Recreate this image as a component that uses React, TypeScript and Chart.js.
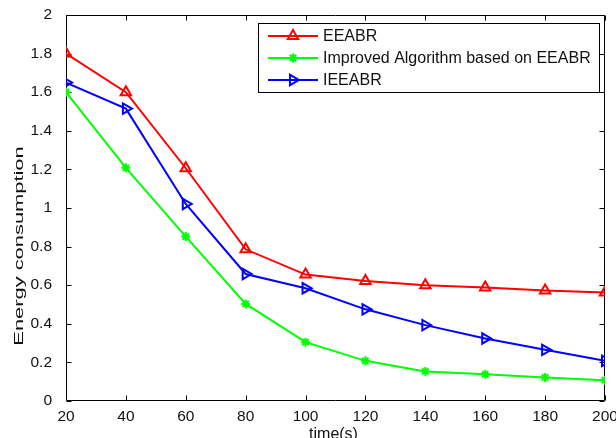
import React, { useEffect, useRef } from "react";
import { Chart, registerables } from "chart.js";

Chart.register(...registerables);

// ---- data ----
const times = [20, 40, 60, 80, 100, 120, 140, 160, 180, 200];
const eeabr = [1.8, 1.6, 1.206, 0.786, 0.655, 0.622, 0.6, 0.588, 0.573, 0.562];
const improved = [1.6, 1.208, 0.852, 0.503, 0.305, 0.208, 0.153, 0.138, 0.122, 0.108];
const ieeabr = [1.65, 1.515, 1.021, 0.658, 0.584, 0.475, 0.393, 0.324, 0.265, 0.208];

const seriesNames = ["EEABR", "Improved Algorithm based on EEABR", "IEEABR"];
const seriesColors = ["#ff0000", "#00ff00", "#0000ff"];
const seriesMarkers = ["triangle", "star", "rtriangle"];

const xTicks = [20, 40, 60, 80, 100, 120, 140, 160, 180, 200];
const yTicks = [0, 0.2, 0.4, 0.6, 0.8, 1, 1.2, 1.4, 1.6, 1.8, 2];
const yTickLabels = ["0", "0.2", "0.4", "0.6", "0.8", "1", "1.2", "1.4", "1.6", "1.8", "2"];

const xTitle = "time(s)";
const yTitle = "Energy consumption";

const FONT = "'Liberation Sans', Arial, Helvetica, sans-serif";
const TEXT = "#111111";

function drawMarker(ctx: CanvasRenderingContext2D, kind: string, x: number, y: number, r: number, color: string) {
  ctx.save();
  ctx.strokeStyle = color;
  ctx.fillStyle = color;
  ctx.lineWidth = 2;
  ctx.beginPath();
  if (kind === "triangle" || kind === "rtriangle") {
    let rad = kind === "triangle" ? 0 : Math.PI / 2;
    const TT = (2 * Math.PI) / 3;
    ctx.moveTo(x + Math.sin(rad) * r, y - Math.cos(rad) * r);
    rad += TT;
    ctx.lineTo(x + Math.sin(rad) * r, y - Math.cos(rad) * r);
    rad += TT;
    ctx.lineTo(x + Math.sin(rad) * r, y - Math.cos(rad) * r);
    ctx.closePath();
  } else {
    const d = r * Math.SQRT1_2;
    ctx.moveTo(x - r, y); ctx.lineTo(x + r, y);
    ctx.moveTo(x, y - r); ctx.lineTo(x, y + r);
    ctx.moveTo(x - d, y - d); ctx.lineTo(x + d, y + d);
    ctx.moveTo(x - d, y + d); ctx.lineTo(x + d, y - d);
  }
  ctx.stroke();
  ctx.restore();
}

const framePlugin = {
  id: "matlabFrame",
  beforeDatasetsDraw(chart: any) {
    const { ctx, chartArea: a, scales } = chart;
    const xs = scales.x;
    const ys = scales.y;
    ctx.save();
    ctx.strokeStyle = "#000";
    ctx.lineWidth = 1;
    const L = Math.round(a.left) + 0.5;
    const R = Math.round(a.right) - 0.5;
    const T = Math.round(a.top) + 0.5;
    const B = Math.round(a.bottom) - 0.5;
    ctx.beginPath();
    ctx.rect(L, T, R - L, B - T);
    const tl = 5;
    for (const v of xTicks) {
      const px = Math.round(xs.getPixelForValue(v)) + 0.5;
      ctx.moveTo(px, B); ctx.lineTo(px, B - tl);
      ctx.moveTo(px, T); ctx.lineTo(px, T + tl);
    }
    for (const v of yTicks) {
      const py = Math.round(ys.getPixelForValue(v)) + 0.5;
      ctx.moveTo(L, py); ctx.lineTo(L + tl, py);
      ctx.moveTo(R, py); ctx.lineTo(R - tl, py);
    }
    ctx.stroke();
    ctx.restore();
  },
  afterDraw(chart: any) {
    const { ctx, chartArea: a } = chart;
    ctx.save();
    // axis titles
    ctx.fillStyle = TEXT;
    ctx.font = `16px ${FONT}`;
    ctx.textAlign = "center";
    ctx.textBaseline = "alphabetic";
    ctx.fillText(xTitle, (a.left + a.right) / 2 - 2, 439);

    ctx.save();
    ctx.translate(19.5, 246);
    ctx.rotate(-Math.PI / 2);
    ctx.scale(1.62, 1);
    ctx.font = `13.5px ${FONT}`;
    ctx.textBaseline = "middle";
    ctx.fillText(yTitle, 0, 0);
    ctx.restore();

    // legend
    const bx = 258.5, by = 23.5, bw = 341, bh = 69;
    ctx.fillStyle = "#ffffff";
    ctx.fillRect(bx, by, bw, bh);
    ctx.strokeStyle = "#000";
    ctx.lineWidth = 1;
    ctx.strokeRect(bx, by, bw, bh);
    ctx.font = `16px ${FONT}`;
    ctx.textAlign = "left";
    ctx.textBaseline = "middle";
    seriesNames.forEach((name, i) => {
      const yy = 36 + 22 * i;
      ctx.strokeStyle = seriesColors[i];
      ctx.lineWidth = 2;
      ctx.beginPath();
      ctx.moveTo(268, yy);
      ctx.lineTo(318, yy);
      ctx.stroke();
      drawMarker(ctx, seriesMarkers[i], 293, yy, seriesMarkers[i] === "star" ? 4.5 : 6, seriesColors[i]);
      ctx.fillStyle = TEXT;
      ctx.fillText(name, 323, yy + 1);
    });
    ctx.restore();
  },
};

export default function App() {
  const ref = useRef<HTMLCanvasElement | null>(null);

  useEffect(() => {
    if (!ref.current) return;
    const mk = (i: number, values: number[]) => ({
      label: seriesNames[i],
      data: times.map((t, k) => ({ x: t, y: values[k] })),
      borderColor: seriesColors[i],
      borderWidth: 2,
      backgroundColor: "transparent",
      pointBackgroundColor: "transparent",
      pointBorderColor: seriesColors[i],
      pointBorderWidth: 2,
      pointStyle: seriesMarkers[i] === "star" ? "star" : "triangle",
      pointRotation: seriesMarkers[i] === "rtriangle" ? 90 : 0,
      pointRadius: seriesMarkers[i] === "star" ? 4.5 : 6,
      tension: 0,
      fill: false,
    });
    const chart = new Chart(ref.current, {
      type: "line",
      data: {
        datasets: [mk(0, eeabr), mk(1, improved), mk(2, ieeabr)],
      },
      options: {
        animation: false,
        responsive: false,
        maintainAspectRatio: false,
        events: [],
        layout: { padding: { top: 15, right: 11, left: 0, bottom: 0 } },
        plugins: { legend: { display: false }, tooltip: { enabled: false }, title: { display: false } },
        scales: {
          x: {
            type: "linear",
            min: 20,
            max: 200,
            grid: { display: false },
            border: { display: false },
            afterBuildTicks: (s: any) => {
              s.ticks = xTicks.map((v) => ({ value: v }));
            },
            afterFit: (s: any) => {
              s.height = 37;
              s.paddingLeft = 0;
              s.paddingRight = 0;
            },
            ticks: {
              color: TEXT,
              font: { family: FONT, size: 15.5 },
              padding: -2,
              maxRotation: 0,
              autoSkip: false,
              callback: (v: any) => String(v),
            },
          },
          y: {
            type: "linear",
            min: 0,
            max: 2,
            grid: { display: false },
            border: { display: false },
            afterBuildTicks: (s: any) => {
              s.ticks = yTicks.map((v) => ({ value: v }));
            },
            afterFit: (s: any) => {
              s.width = 66;
              s.paddingTop = 0;
              s.paddingBottom = 0;
            },
            ticks: {
              color: TEXT,
              font: { family: FONT, size: 15.5 },
              padding: 6,
              autoSkip: false,
              callback: (v: any) => {
                const idx = yTicks.findIndex((t) => Math.abs(t - v) < 1e-9);
                return idx >= 0 ? yTickLabels[idx] : "";
              },
            },
          },
        },
      },
      plugins: [framePlugin],
    } as any);
    return () => chart.destroy();
  }, []);

  return (
    <div style={{ position: "absolute", left: 0, top: 0, width: 616, height: 438, background: "#fff" }}>
      <canvas ref={ref} width={616} height={438} style={{ display: "block", width: 616, height: 438 }} />
    </div>
  );
}
